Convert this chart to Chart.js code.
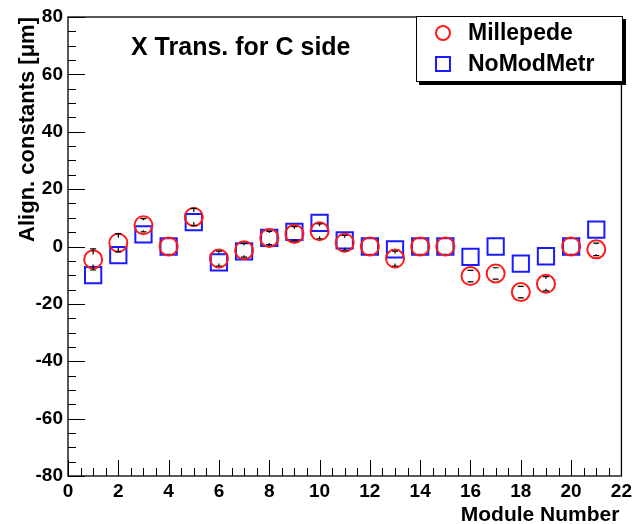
<!DOCTYPE html>
<html lang="en">
<head>
<meta charset="UTF-8">
<title>X Trans. for C side</title>
<script src="https://cdn.jsdelivr.net/npm/chart.js"></script>
<style>
  body { margin: 0; background: #fff; }
</style>
</head>
<body>
<canvas id="chart" width="636" height="524"></canvas>
<script>
// module numbers on the C side
const modules = [1, 2, 3, 4, 5, 6, 7, 8, 9, 10, 11, 12, 13, 14, 15, 16, 17, 18, 19, 20, 21];

// alignment constants in micrometres
const millepede    = [-4.5, 1.3, 7.4, 0, 10.3, -4.2, -1.3, 3.0, 4.4, 5.3, 1.3, 0, -4.2, 0, 0, -10.3, -9.4, -15.9, -13.0, 0, -1.0];
const millepedeErr = [3.7, 3.2, 2.3, 0, 3.0, 2.6, 2.4, 2.3, 2.5, 2.6, 2.6, 0, 2.6, 0, 0, 2.0, 2.0, 2.0, 2.5, 0, 2.2];
const noModMetr    = [-10.0, -3.0, 4.2, 0, 8.5, -5.5, -1.7, 3.0, 5.1, 8.2, 2.1, 0, -1.0, 0, 0, -3.6, 0, -6.0, -3.4, 0, 5.9];

const FONT = 'Liberation Sans, Arial, Helvetica, sans-serif';

const toPoints = vals => vals.map((v, i) => ({ x: modules[i], y: v }));

// vertical error bars with end caps, leaving a small gap around the point
const errorBars = {
  id: 'errorBars',
  afterDatasetsDraw(chart) {
    const { ctx, scales: { x, y } } = chart;
    const gap = 5, cap = 3;
    ctx.save();
    ctx.strokeStyle = '#000';
    ctx.lineWidth = 1.2;
    millepede.forEach((v, i) => {
      const err = millepedeErr[i];
      if (!err) return;
      const px = x.getPixelForValue(modules[i]);
      const py = y.getPixelForValue(v);
      const top = y.getPixelForValue(v + err);
      const bot = y.getPixelForValue(v - err);
      ctx.beginPath();
      if (py - top > gap) {
        ctx.moveTo(px, py - gap); ctx.lineTo(px, top);
        ctx.moveTo(px - cap, top); ctx.lineTo(px + cap, top);
      }
      if (bot - py > gap) {
        ctx.moveTo(px, py + gap); ctx.lineTo(px, bot);
        ctx.moveTo(px - cap, bot); ctx.lineTo(px + cap, bot);
      }
      ctx.stroke();
    });
    ctx.restore();
  }
};

// frame with inward major/minor tick marks, titles and boxed legend
const frame = {
  id: 'frame',
  afterDraw(chart) {
    const { ctx, chartArea: a, scales: { x, y } } = chart;
    ctx.save();
    ctx.strokeStyle = '#000';
    ctx.lineWidth = 1.3;
    ctx.strokeRect(a.left, a.top, a.right - a.left, a.bottom - a.top);

    ctx.lineWidth = 1;
    ctx.beginPath();
    const xt = x.ticks.map(t => t.value);
    xt.forEach((v, k) => {
      const px = Math.round(x.getPixelForValue(v)) + 0.5;
      ctx.moveTo(px, a.bottom); ctx.lineTo(px, a.bottom - 16);
      if (k < xt.length - 1) {
        const step = (xt[k + 1] - v) / 4;
        for (let m = 1; m < 4; m++) {
          const mx = Math.round(x.getPixelForValue(v + m * step)) + 0.5;
          ctx.moveTo(mx, a.bottom); ctx.lineTo(mx, a.bottom - 8);
        }
      }
    });
    const yt = y.ticks.map(t => t.value);
    yt.forEach((v, k) => {
      const py = Math.round(y.getPixelForValue(v)) + 0.5;
      ctx.moveTo(a.left, py); ctx.lineTo(a.left + 17, py);
      if (k < yt.length - 1) {
        const step = (yt[k + 1] - v) / 4;
        for (let m = 1; m < 4; m++) {
          const my = Math.round(y.getPixelForValue(v + m * step)) + 0.5;
          ctx.moveTo(a.left, my); ctx.lineTo(a.left + 8, my);
        }
      }
    });
    ctx.stroke();

    // titles
    ctx.fillStyle = '#000';
    ctx.font = 'bold 25px ' + FONT;
    ctx.textAlign = 'left';
    ctx.textBaseline = 'alphabetic';
    ctx.fillText('X Trans. for C side', 131, 55);

    ctx.font = 'bold 21px ' + FONT;
    ctx.textAlign = 'right';
    ctx.fillText('Module Number', a.right - 2, 521);

    ctx.font = 'bold 22px ' + FONT;
    ctx.save();
    ctx.translate(34, a.top);
    ctx.rotate(-Math.PI / 2);
    ctx.textAlign = 'right';
    ctx.fillText('Align. constants [\u03bcm]', 0, 0);
    ctx.restore();

    // legend box with drop shadow
    const lx = 416, ly = a.top - 1, lw = 206, lh = 65;
    ctx.fillStyle = '#000';
    ctx.fillRect(lx + 3, ly + 3, lw + 1, lh + 1);
    ctx.fillStyle = '#fff';
    ctx.fillRect(lx, ly, lw, lh);
    ctx.lineWidth = 1;
    ctx.strokeRect(lx + 0.5, ly + 0.5, lw, lh);

    ctx.font = 'bold 23px ' + FONT;
    ctx.textAlign = 'left';
    ctx.textBaseline = 'middle';
    chart.data.datasets.forEach((ds, i) => {
      const cy = ly + 17 + i * 31;
      ctx.strokeStyle = ds.borderColor;
      ctx.lineWidth = ds.borderWidth;
      ctx.beginPath();
      if (ds.pointStyle === 'circle') {
        ctx.arc(443, cy, 7, 0, Math.PI * 2);
      } else {
        ctx.rect(436, cy - 7, 14, 14);
      }
      ctx.stroke();
      ctx.fillStyle = '#000';
      ctx.fillText(ds.label, 468, cy + 1);
    });
    ctx.restore();
  }
};

new Chart(document.getElementById('chart'), {
  type: 'scatter',
  data: {
    datasets: [
      {
        label: 'Millepede',
        data: toPoints(millepede),
        pointStyle: 'circle',
        pointRadius: 9,
        borderColor: '#ff1a1a',
        backgroundColor: 'rgba(0,0,0,0)',
        borderWidth: 2
      },
      {
        label: 'NoModMetr',
        data: toPoints(noModMetr),
        pointStyle: 'rect',
        pointRadius: 11.5,
        borderColor: '#1a1aff',
        backgroundColor: 'rgba(0,0,0,0)',
        borderWidth: 2
      }
    ]
  },
  options: {
    responsive: false,
    animation: false,
    devicePixelRatio: 1,
    layout: { padding: { top: 17, right: 12, left: 0, bottom: 0 } },
    plugins: {
      legend: { display: false },
      tooltip: { enabled: false }
    },
    scales: {
      x: {
        type: 'linear',
        min: 0,
        max: 22,
        grid: { display: false, drawTicks: false },
        border: { display: false },
        ticks: {
          stepSize: 2,
          color: '#000',
          padding: 4,
          maxRotation: 0,
          font: { family: FONT, weight: 'bold', size: 19 }
        },
        afterFit: s => { s.height = 48; }
      },
      y: {
        min: -80,
        max: 80,
        grid: { display: false, drawTicks: false },
        border: { display: false },
        ticks: {
          stepSize: 20,
          color: '#000',
          padding: 5,
          font: { family: FONT, weight: 'bold', size: 19 }
        },
        afterFit: s => { s.width = 68; }
      }
    }
  },
  plugins: [errorBars, frame]
});
</script>
</body>
</html>
